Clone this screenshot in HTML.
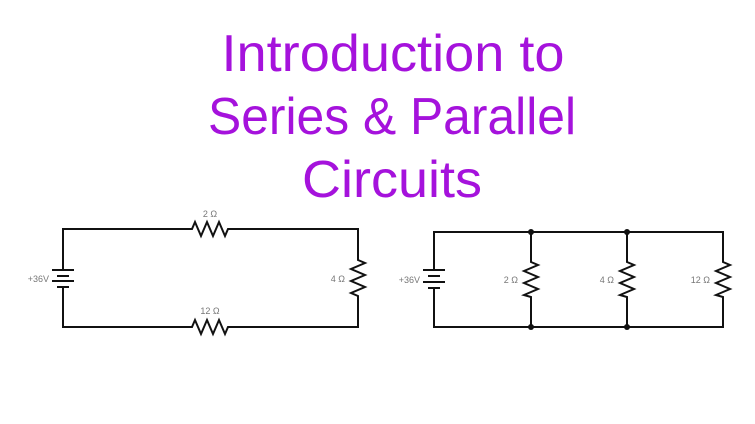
<!DOCTYPE html>
<html><head><style>
html,body{margin:0;padding:0;background:#fff;}
svg{display:block;}
</style></head><body>
<svg width="755" height="424" viewBox="0 0 755 424" xmlns="http://www.w3.org/2000/svg">
<g font-family="Liberation Sans, sans-serif" fill="#a512dc" font-size="52" text-anchor="middle">
<text x="393" y="71" textLength="343" lengthAdjust="spacingAndGlyphs">Introduction to</text>
<text x="392" y="134" textLength="368" lengthAdjust="spacingAndGlyphs">Series &amp; Parallel</text>
<text x="392" y="197" textLength="180" lengthAdjust="spacingAndGlyphs">Circuits</text>
</g>
<g stroke="#111" stroke-width="2" fill="none" stroke-linejoin="miter">
<!-- series circuit -->
<polyline points="63,270 63,229 192,229 195,222 201,236 207,222 213,236 219,222 225,236 228,229 358,229 358,260 365,263 351,269 365,275 351,281 365,287 351,293 358,296 358,327 228,327 225,334 219,320 213,334 207,320 201,334 195,320 192,327 63,327 63,287"/>
<line x1="52" y1="270" x2="74" y2="270"/>
<line x1="57" y1="276" x2="69" y2="276"/>
<line x1="52" y1="281" x2="74" y2="281"/>
<line x1="57" y1="287" x2="69" y2="287"/>
<!-- parallel circuit -->
<polyline points="434,270 434,232 723,232 723,262 730,265 716,271 730,277 716,283 730,289 716,295 723,297 723,327 434,327 434,288"/>
<line x1="423" y1="270" x2="445" y2="270"/>
<line x1="428" y1="276" x2="440" y2="276"/>
<line x1="423" y1="282" x2="445" y2="282"/>
<line x1="428" y1="288" x2="440" y2="288"/>
<polyline points="531,232 531,262 538,265 524,271 538,277 524,283 538,289 524,295 531,297 531,327"/>
<polyline points="627,232 627,262 634,265 620,271 634,277 620,283 634,289 620,295 627,297 627,327"/>
</g>
<g fill="#111">
<circle cx="531" cy="232" r="3"/><circle cx="627" cy="232" r="3"/>
<circle cx="531" cy="327" r="3"/><circle cx="627" cy="327" r="3"/>
</g>
<g font-family="Liberation Sans, DejaVu Sans, sans-serif" font-size="9" fill="#777">
<text x="210" y="217" text-anchor="middle">2 Ω</text>
<text x="210" y="314" text-anchor="middle">12 Ω</text>
<text x="345" y="282" text-anchor="end">4 Ω</text>
<text x="49" y="282" text-anchor="end">+36V</text>
<text x="420" y="283" text-anchor="end">+36V</text>
<text x="518" y="283" text-anchor="end">2 Ω</text>
<text x="614" y="283" text-anchor="end">4 Ω</text>
<text x="710" y="283" text-anchor="end">12 Ω</text>
</g>
</svg>
</body></html>
